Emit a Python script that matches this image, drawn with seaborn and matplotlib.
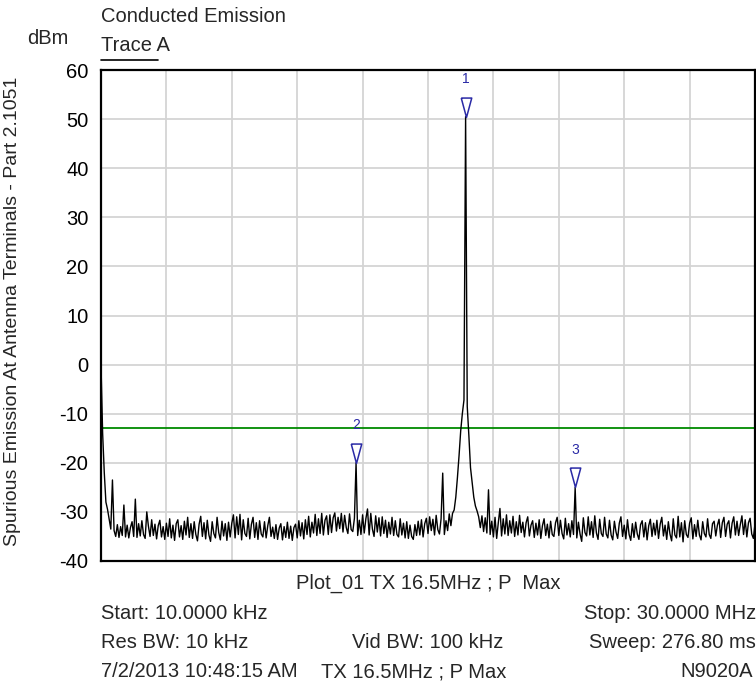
import numpy as np
import pandas as pd
import matplotlib
matplotlib.use("Agg")
import matplotlib.pyplot as plt
import seaborn as sns

# ---- sweep settings ----
start_mhz = 0.01
stop_mhz = 30.0
n_points = 401

# ---- measured trace (dBm), one value per sweep point ----
trace_dbm = [
    0.0, -14.0, -22.0, -28.0, -29.5, -31.5, -33.5, -23.5, -33.8, -35.0,
    -32.6, -35.2, -33.0, -34.8, -28.6, -35.1, -32.7, -35.3, -33.2, -32.0,
    -35.0, -27.4, -35.2, -32.4, -34.9, -31.8, -34.6, -35.4, -30.0, -32.9,
    -35.0, -31.6, -34.8, -32.5, -35.5, -32.8, -31.7, -35.1, -33.0, -35.6,
    -32.3, -35.0, -31.4, -35.3, -32.7, -35.8, -32.4, -31.6, -35.1, -32.8,
    -35.6, -31.9, -34.7, -31.1, -35.2, -32.4, -35.4, -32.0, -34.6, -35.9,
    -32.5, -30.9, -35.0, -32.2, -35.5, -31.7, -34.7, -36.0, -32.0, -34.4,
    -35.3, -31.1, -34.2, -35.7, -31.9, -34.9, -32.4, -35.8, -32.1, -35.1,
    -32.3, -30.6, -35.3, -31.0, -34.6, -30.5, -35.7, -31.6, -34.4, -35.0,
    -31.3, -35.5, -32.5, -31.1, -35.2, -32.2, -35.6, -31.8, -34.5, -35.1,
    -32.0, -35.3, -32.8, -31.1, -35.0, -33.1, -35.4, -32.6, -35.6, -33.3,
    -32.4, -35.7, -33.0, -35.2, -32.1, -35.4, -32.9, -35.8, -33.2, -32.5,
    -35.3, -31.8, -34.9, -32.2, -35.5, -31.6, -34.6, -30.9, -35.1, -32.1,
    -34.3, -30.5, -34.8, -31.4, -34.4, -30.3, -34.7, -31.7, -30.8, -34.6,
    -30.6, -34.2, -31.2, -30.2, -33.9, -31.1, -33.4, -30.3, -34.1, -30.7,
    -33.2, -34.4, -30.4, -33.6, -34.0, -31.3, -20.0, -34.8, -31.7, -34.6,
    -30.6, -34.3, -31.4, -29.4, -34.7, -30.3, -33.5, -35.0, -30.8, -34.1,
    -31.2, -34.9, -31.0, -34.4, -31.7, -35.2, -32.1, -34.5, -31.1, -34.8,
    -31.8, -34.6, -35.1, -31.4, -34.7, -32.3, -35.3, -32.0, -35.4, -32.7,
    -35.0, -35.6, -32.6, -34.8, -31.9, -34.7, -31.6, -35.1, -32.4, -31.3,
    -34.4, -31.0, -33.8, -31.5, -34.7, -30.7, -33.6, -34.5, -31.4, -22.1,
    -34.6, -31.8, -33.8, -30.4, -32.8, -30.3, -29.6, -27.0, -23.0, -18.5,
    -13.5, -10.0, -7.2, 50.5, -8.5, -14.5, -21.0, -24.0, -27.0, -28.8,
    -29.8, -31.0, -33.2, -30.8, -34.0, -31.2, -34.3, -25.5, -34.6, -31.9,
    -35.1, -31.1, -35.4, -32.2, -29.3, -34.9, -31.4, -34.5, -30.6, -34.8,
    -31.8, -34.3, -30.9, -35.0, -32.0, -34.7, -30.7, -34.2, -32.1, -35.1,
    -32.2, -31.0, -34.9, -32.7, -31.8, -35.2, -32.3, -34.7, -31.6, -35.4,
    -32.8, -31.4, -34.8, -32.5, -35.3, -31.9, -34.6, -35.0, -32.2, -31.1,
    -34.8, -31.7, -34.4, -35.5, -31.3, -34.7, -32.4, -35.1, -31.8, -34.6,
    -25.0, -35.3, -32.1, -34.5, -36.0, -31.2, -34.2, -34.9, -31.0, -34.7,
    -32.0, -35.2, -30.8, -34.3, -35.6, -31.5, -34.4, -35.0, -31.1, -34.5,
    -35.3, -31.7, -34.7, -35.7, -31.9, -34.1, -35.4, -32.3, -31.0, -35.0,
    -32.7, -35.5, -31.6, -34.6, -35.8, -32.4, -35.2, -32.1, -34.5, -35.6,
    -32.6, -31.8, -35.1, -32.2, -35.7, -32.8, -31.5, -35.0, -32.3, -34.7,
    -31.7, -35.4, -32.5, -31.1, -34.9, -32.7, -35.6, -32.0, -34.5, -35.9,
    -31.4, -34.7, -35.3, -30.9, -35.1, -32.2, -36.1, -31.8, -34.6, -35.2,
    -32.3, -31.2, -35.5, -32.6, -35.0, -31.7, -34.7, -35.7, -32.0, -34.4,
    -35.1, -31.4, -34.6, -35.4, -32.4, -31.9, -34.9, -32.7, -31.5, -35.2,
    -32.2, -31.1, -35.0, -32.5, -31.8, -35.3, -32.3, -31.0, -34.7, -31.9,
    -34.8, -32.6, -30.8, -34.6, -31.6, -35.1, -32.2, -31.3, -34.5, -35.4,
    -32.4,
]

# ---- markers (sweep point index) and limit ----
marker_labels = ["1", "2", "3"]
marker_index = [223, 156, 290]
limit_dbm = -13.0

# ---- axis ticks ----
y_ticks = [-40, -30, -20, -10, 0, 10, 20, 30, 40, 50, 60]
x_divisions = 10

freq_mhz = np.linspace(start_mhz, stop_mhz, n_points)
df = pd.DataFrame({"freq": freq_mhz, "level": trace_dbm})

sns.set_style("white")
plt.rcParams["font.family"] = ["Liberation Sans", "DejaVu Sans"]

W, H = 756, 688
fig = plt.figure(figsize=(W / 100, H / 100), dpi=100)
ax = fig.add_axes([101 / W, 1 - 561 / H, 654 / W, 491 / H])

sns.lineplot(data=df, x="freq", y="level", ax=ax, color="black",
             linewidth=1.0, estimator=None, sort=False, zorder=3)

ax.axhline(limit_dbm, color="#008a00", linewidth=1.3, zorder=2)

ax.set_xlim(start_mhz, stop_mhz)
ax.set_ylim(y_ticks[0], y_ticks[-1])
ax.set_xticks(np.linspace(start_mhz, stop_mhz, x_divisions + 1))
ax.set_xticklabels([])
ax.set_yticks(y_ticks)
ax.set_yticklabels([str(t) for t in y_ticks])
ax.tick_params(axis="both", length=0)
ax.tick_params(axis="y", labelsize=14.5, pad=9, colors="black")
ax.grid(True, color="#d4d4d4", linewidth=1.3, zorder=0)
ax.set_axisbelow(True)
ax.set_xlabel("")
ax.set_ylabel("")
for sp in ax.spines.values():
    sp.set_visible(True)
    sp.set_color("black")
    sp.set_linewidth(1.6)

# marker triangles: apex sits on the trace point
tri = [(-0.27, 1.0), (0.27, 1.0), (0.0, 0.0), (-0.27, 1.0)]
blue = "#2a2aa6"
for lab, idx in zip(marker_labels, marker_index):
    f = freq_mhz[idx]
    v = trace_dbm[idx]
    ax.plot([f], [v], linestyle="none", marker=tri, markersize=28,
            markerfacecolor="none", markeredgecolor=blue,
            markeredgewidth=1.1, zorder=4, clip_on=False)
    ax.annotate(lab, (f, v), xytext=(0, 27), textcoords="offset points",
                ha="center", va="center", fontsize=10, color=blue,
                annotation_clip=False)


def px(x, y):
    return x / W, 1 - y / H


fs = 14.5
fig.text(*px(101, 22), "Conducted Emission", fontsize=fs, ha="left", va="baseline")
fig.text(*px(69, 44), "dBm", fontsize=fs, ha="right", va="baseline")
fig.text(*px(101, 51), "Trace A", fontsize=fs, ha="left", va="baseline")
fig.add_artist(plt.Line2D([101 / W, 158 / W], [1 - 60 / H, 1 - 60 / H],
                          color="black", linewidth=1.2))
fig.text(*px(13, 311), "Spurious Emission At Antenna Terminals - Part 2.1051",
         fontsize=14, rotation=90, ha="center", va="center")

fig.text(*px(428, 589), "Plot_01 TX 16.5MHz ; P  Max", fontsize=fs, ha="center", va="baseline")
fig.text(*px(101, 619), "Start: 10.0000 kHz", fontsize=fs, ha="left", va="baseline")
fig.text(*px(756, 619), "Stop: 30.0000 MHz", fontsize=fs, ha="right", va="baseline")
fig.text(*px(101, 648), "Res BW: 10 kHz", fontsize=fs, ha="left", va="baseline")
fig.text(*px(428, 648), "Vid BW: 100 kHz", fontsize=fs, ha="center", va="baseline")
fig.text(*px(756, 648), "Sweep: 276.80 ms", fontsize=fs, ha="right", va="baseline")
fig.text(*px(101, 677), "7/2/2013 10:48:15 AM", fontsize=fs, ha="left", va="baseline")
fig.text(*px(414, 677), "TX 16.5MHz ; P Max", fontsize=fs, ha="center", va="baseline")
fig.text(*px(753, 677), "N9020A", fontsize=fs, ha="right", va="baseline")

fig.savefig("out.png", dpi=100)
